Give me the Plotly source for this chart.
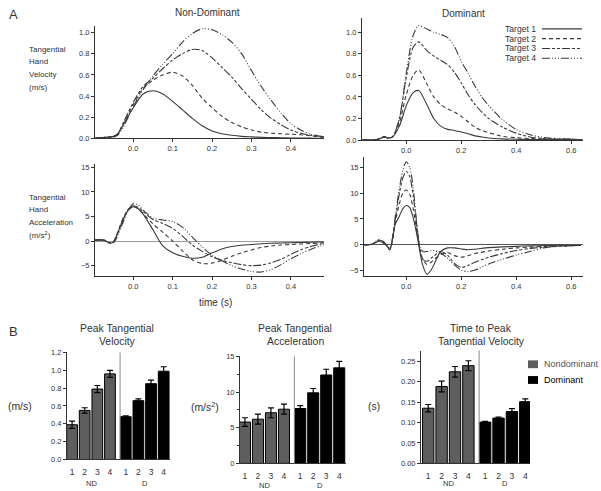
import plotly.graph_objects as go

# ---------------- DATA ----------------
targets = ["Target 1", "Target 2", "Target 3", "Target 4"]

# Panel A: Non-dominant tangential velocity (m/s)
t_nd_vel = [-0.1, -0.075, -0.05, -0.04, -0.025, 0.0, 0.025, 0.05, 0.075, 0.1, 0.125, 0.15, 0.175,
            0.2, 0.225, 0.25, 0.275, 0.3, 0.325, 0.35, 0.375, 0.4, 0.425, 0.45, 0.475, 0.49]
nd_vel_t1 = [0.0, 0.01, 0.02, 0.04, 0.13, 0.29, 0.42, 0.45, 0.42, 0.35, 0.27, 0.19, 0.12, 0.07, 0.045,
             0.03, 0.02, 0.015, 0.011, 0.009, 0.007, 0.005, 0.004, 0.003, 0.002, 0.002]
nd_vel_t2 = [0.0, 0.01, 0.02, 0.04, 0.14, 0.32, 0.47, 0.55, 0.60, 0.625, 0.59, 0.50, 0.38, 0.29, 0.21,
             0.15, 0.11, 0.08, 0.06, 0.05, 0.045, 0.04, 0.035, 0.025, 0.015, 0.01]
nd_vel_t3 = [0.0, 0.01, 0.02, 0.04, 0.15, 0.34, 0.49, 0.57, 0.66, 0.74, 0.80, 0.84, 0.83, 0.76, 0.67,
             0.58, 0.47, 0.37, 0.27, 0.19, 0.13, 0.08, 0.05, 0.03, 0.02, 0.015]
nd_vel_t4 = [0.0, 0.01, 0.015, 0.03, 0.11, 0.30, 0.46, 0.59, 0.70, 0.80, 0.91, 0.99, 1.035, 1.025, 0.98,
             0.91, 0.80, 0.64, 0.49, 0.36, 0.24, 0.14, 0.08, 0.04, 0.02, 0.012]

# Panel A: Dominant tangential velocity (m/s)
t_d_vel = [-0.16, -0.125, -0.1, -0.08, -0.065, -0.05, -0.025, 0.0, 0.025, 0.045, 0.075, 0.1, 0.125,
           0.15, 0.175, 0.2, 0.225, 0.25, 0.275, 0.3, 0.35, 0.4, 0.45, 0.5, 0.55, 0.6, 0.64]
d_vel_t1 = [0.0, 0.002, 0.01, 0.03, 0.02, 0.03, 0.13, 0.32, 0.44, 0.46, 0.33, 0.20, 0.13, 0.10, 0.09,
            0.075, 0.06, 0.04, 0.03, 0.02, 0.012, 0.008, 0.006, 0.005, 0.005, 0.004, 0.003]
d_vel_t2 = [0.0, 0.002, 0.01, 0.03, 0.02, 0.03, 0.16, 0.42, 0.60, 0.65, 0.52, 0.40, 0.33, 0.29, 0.26,
            0.22, 0.17, 0.12, 0.09, 0.07, 0.035, 0.022, 0.015, 0.01, 0.008, 0.006, 0.005]
d_vel_t3 = [0.0, 0.002, 0.01, 0.03, 0.02, 0.03, 0.20, 0.58, 0.86, 0.91, 0.83, 0.78, 0.74, 0.70, 0.63,
            0.53, 0.42, 0.33, 0.26, 0.20, 0.12, 0.065, 0.03, 0.015, 0.01, 0.008, 0.005]
d_vel_t4 = [0.0, 0.002, 0.01, 0.03, 0.02, 0.03, 0.20, 0.62, 0.97, 1.06, 1.03, 1.0, 0.98, 0.95, 0.87,
            0.73, 0.62, 0.50, 0.40, 0.32, 0.19, 0.10, 0.05, 0.025, 0.015, 0.01, 0.005]

# Panel A: Non-dominant tangential acceleration (m/s^2)
t_nd_acc = [-0.1, -0.075, -0.06, -0.05, -0.04, -0.025, -0.0125, 0.0, 0.0125, 0.025, 0.05, 0.075, 0.1,
            0.125, 0.15, 0.175, 0.2, 0.225, 0.25, 0.275, 0.3, 0.325, 0.35, 0.375, 0.4, 0.425, 0.45,
            0.475, 0.49]
nd_acc_t1 = [0.2, 0.2, -0.4, -0.2, 1.5, 4.5, 6.3, 7.0, 6.6, 5.5, 2.3, -1.0, -2.4, -3.1, -3.5, -3.3,
             -2.4, -1.6, -1.1, -0.85, -0.7, -0.55, -0.45, -0.4, -0.35, -0.3, -0.25, -0.2, -0.2]
nd_acc_t2 = [0.2, 0.2, -0.4, -0.1, 1.7, 4.8, 6.4, 7.0, 6.6, 5.6, 3.5, 1.8, 0.0, -2.0, -3.8, -4.6,
             -4.5, -3.9, -3.1, -2.4, -1.8, -1.3, -1.0, -0.8, -0.7, -0.6, -0.5, -0.4, -0.35]
nd_acc_t3 = [0.2, 0.2, -0.4, -0.2, 1.5, 4.6, 6.5, 7.2, 6.9, 6.0, 4.4, 3.6, 2.6, 1.0, -0.8, -2.1,
             -3.2, -3.9, -4.4, -4.8, -5.0, -4.9, -4.4, -3.7, -2.7, -1.8, -1.1, -0.6, -0.4]
nd_acc_t4 = [0.2, 0.2, -0.3, -0.3, 1.0, 4.0, 6.3, 7.6, 7.4, 6.3, 4.7, 4.3, 4.0, 2.8, 0.8, -1.2,
             -2.9, -4.0, -5.0, -5.7, -6.2, -6.3, -5.8, -4.8, -3.6, -2.6, -1.7, -1.0, -0.6]

# Panel A: Dominant tangential acceleration (m/s^2)
t_d_acc = [-0.155, -0.125, -0.1, -0.085, -0.07, -0.06, -0.05, -0.04, -0.025, -0.0125, 0.0, 0.0125,
           0.025, 0.04, 0.05, 0.06, 0.075, 0.09, 0.1, 0.125, 0.15, 0.175, 0.2, 0.225, 0.25, 0.3,
           0.35, 0.4, 0.45, 0.5, 0.55, 0.6, 0.635]
d_acc_t1 = [0, 0.1, 0.7, 0.4, -0.3, -1.0, 1.2, 4.0, 5.6, 7.0, 7.6, 7.2, 5.2, 1.5, -1.5, -4.0, -5.7,
            -4.9, -3.9, -1.3, -0.6, -0.6, -0.8, -0.95, -0.85, -0.55, -0.4, -0.3, -0.2, -0.15, -0.1,
            -0.1, -0.1]
d_acc_t2 = [0, 0.1, 0.8, 0.5, -0.2, -0.9, 1.0, 4.5, 8.0, 10.0, 10.6, 9.8, 7.0, 2.0, -1.0, -2.8, -3.8,
            -3.4, -2.9, -1.9, -1.5, -2.1, -2.4, -2.1, -1.7, -1.2, -0.85, -0.6, -0.45, -0.3, -0.2,
            -0.15, -0.1]
d_acc_t3 = [0, 0.1, 0.9, 0.6, -0.2, -0.8, 1.2, 5.0, 10.0, 13.0, 14.2, 13.2, 9.5, 3.0, -1.0, -2.8,
            -3.2, -2.6, -2.2, -1.3, -2.0, -3.6, -4.4, -4.0, -3.4, -2.4, -1.7, -1.1, -0.7, -0.45,
            -0.3, -0.2, -0.1]
d_acc_t4 = [0, 0.1, 1.0, 0.7, -0.1, -0.6, 1.5, 5.5, 11.0, 14.5, 16.1, 15.0, 11.0, 3.0, -0.5, -1.3,
            -1.3, -1.1, -1.1, -1.6, -2.6, -3.9, -4.9, -5.2, -4.9, -3.7, -2.8, -2.0, -1.3, -0.6,
            -0.25, -0.15, -0.1]

# Panel B: bar summaries
bar_pos_nd = [1, 2, 3, 4]
bar_pos_d = [5.25, 6.25, 7.25, 8.25]
bar_ticktext = ["1", "2", "3", "4", "1", "2", "3", "4"]
group_labels = ["ND", "D"]

pk_vel_nd = [0.39, 0.55, 0.79, 0.96]
pk_vel_nd_err = [0.04, 0.03, 0.04, 0.04]
pk_vel_d = [0.48, 0.66, 0.85, 0.99]
pk_vel_d_err = [0.01, 0.02, 0.04, 0.05]

pk_acc_nd = [5.8, 6.2, 7.1, 7.6]
pk_acc_nd_err = [0.6, 0.7, 0.7, 0.7]
pk_acc_d = [7.7, 9.9, 12.4, 13.4]
pk_acc_d_err = [0.4, 0.6, 0.8, 0.9]

ttp_nd = [0.135, 0.188, 0.224, 0.239]
ttp_nd_err = [0.009, 0.013, 0.013, 0.012]
ttp_d = [0.101, 0.111, 0.127, 0.151]
ttp_d_err = [0.002, 0.002, 0.007, 0.007]

# ---------------- STYLE ----------------
W, H = 601, 491
FONT = "Liberation Sans"
TXT = "#333333"
LINE_C = "#3a3a3a"
ND_C = "#5e5e5e"
D_C = "#000000"
dashes = ["solid", "4px,3px", "8px,2px,3px,2px,3px,2px", "8px,2px,1px,2px,1px,2px,1px,2px"]


def xd(a, b):
    return [a / W, b / W]


def yd(top, bottom):
    return [1 - bottom / H, 1 - top / H]


def px_x(x):
    return x / W


def px_y(y):
    return 1 - y / H


fig = go.Figure()

curve_sets = [
    ("x", "y", t_nd_vel, [nd_vel_t1, nd_vel_t2, nd_vel_t3, nd_vel_t4]),
    ("x2", "y2", t_d_vel, [d_vel_t1, d_vel_t2, d_vel_t3, d_vel_t4]),
    ("x3", "y3", t_nd_acc, [nd_acc_t1, nd_acc_t2, nd_acc_t3, nd_acc_t4]),
    ("x4", "y4", t_d_acc, [d_acc_t1, d_acc_t2, d_acc_t3, d_acc_t4]),
]
for xa, ya, tt, series in curve_sets:
    for name, vals, dsh in zip(targets, series, dashes):
        fig.add_trace(go.Scatter(
            x=tt, y=vals, xaxis=xa, yaxis=ya, mode="lines", name=name, showlegend=False,
            line=dict(color=LINE_C, width=1.1, dash=dsh, shape="spline", smoothing=0.8),
            hoverinfo="skip"))

bar_sets = [
    ("x5", "y5", pk_vel_nd, pk_vel_nd_err, pk_vel_d, pk_vel_d_err),
    ("x6", "y6", pk_acc_nd, pk_acc_nd_err, pk_acc_d, pk_acc_d_err),
    ("x7", "y7", ttp_nd, ttp_nd_err, ttp_d, ttp_d_err),
]
for xa, ya, nd, nde, d, de in bar_sets:
    for pos, vals, errs, col, nm in [(bar_pos_nd, nd, nde, ND_C, "Nondominant"),
                                     (bar_pos_d, d, de, D_C, "Dominant")]:
        fig.add_trace(go.Bar(
            x=pos, y=vals, xaxis=xa, yaxis=ya, width=0.85, name=nm, showlegend=False,
            marker=dict(color=col, line=dict(color="#000000", width=1)),
            error_y=dict(type="data", array=errs, color="#000000", thickness=1.2, width=3),
            hoverinfo="skip"))

axis_common = dict(showline=True, linecolor="#333333", linewidth=1, ticks="outside", ticklen=3,
                   tickcolor="#333333", tickwidth=1, showgrid=False, zeroline=False,
                   tickfont=dict(family=FONT, size=7.5, color=TXT))

layout = dict(
    width=W, height=H, margin=dict(l=0, r=0, t=0, b=0),
    paper_bgcolor="white", plot_bgcolor="white", showlegend=False,
    font=dict(family=FONT, color=TXT),
    bargap=0, hovermode=False,
)

# Velocity panels
layout["xaxis"] = dict(axis_common, domain=xd(95, 324), anchor="y", range=[-0.097, 0.484],
                       tickvals=[0, 0.1, 0.2, 0.3, 0.4], tickformat=".1f")
layout["yaxis"] = dict(axis_common, domain=yd(22, 137), anchor="x", range=[0, 1.065],
                       dtick=0.2, tickformat=".1f")
layout["xaxis2"] = dict(axis_common, domain=xd(362, 583), anchor="y2", range=[-0.161, 0.643],
                        tickvals=[0, 0.2, 0.4, 0.6], tickformat=".1f")
layout["yaxis2"] = dict(axis_common, domain=yd(14, 138.7), anchor="x2", range=[0, 1.134],
                        tickvals=[0, 0.2, 0.4, 0.6, 0.8, 1.0], tickformat=".1f")
# Acceleration panels
layout["xaxis3"] = dict(axis_common, domain=xd(95, 324), anchor="y3", range=[-0.097, 0.484],
                        tickvals=[0, 0.1, 0.2, 0.3, 0.4], tickformat=".1f")
layout["yaxis3"] = dict(axis_common, domain=yd(163, 277), anchor="x3", range=[-7.1, 15.7],
                        tickvals=[-5, 0, 5, 10, 15], zeroline=True, zerolinecolor="#9a9a9a",
                        zerolinewidth=1)
layout["xaxis4"] = dict(axis_common, domain=xd(364, 583), anchor="y4", range=[-0.154, 0.643],
                        tickvals=[0, 0.2, 0.4, 0.6], tickformat=".1f")
layout["yaxis4"] = dict(axis_common, domain=yd(156, 277), anchor="x4", range=[-6.03, 16.98],
                        tickvals=[-5, 0, 5, 10, 15], zeroline=True, zerolinecolor="#555555",
                        zerolinewidth=1.2)
# Bar panels
bar_x_common = dict(axis_common, ticks="", ticklen=0, ticklabelstandoff=4,
                    tickvals=bar_pos_nd + bar_pos_d, ticktext=bar_ticktext,
                    tickfont=dict(family=FONT, size=8.5, color=TXT))
layout["xaxis5"] = dict(bar_x_common, domain=xd(67, 170), anchor="y5", range=[0.6, 8.75])
layout["yaxis5"] = dict(axis_common, domain=yd(355, 464), anchor="x5", range=[0, 1.2],
                        dtick=0.2, tickformat=".1f")
layout["xaxis6"] = dict(bar_x_common, domain=xd(240, 346), anchor="y6", range=[0.62, 8.77])
layout["yaxis6"] = dict(axis_common, domain=yd(359, 468), anchor="x6", range=[0, 15],
                        dtick=5, minor=dict(dtick=2.5, ticklen=2, ticks="outside",
                                            tickcolor="#333333"))
layout["xaxis7"] = dict(bar_x_common, domain=xd(421, 530), anchor="y7", range=[0.46, 8.6])
layout["yaxis7"] = dict(axis_common, domain=yd(353, 468), anchor="x7", range=[0, 0.276],
                        dtick=0.05, tickformat=".2f")

fig.update_layout(**layout)

shapes = []
# group dividers in bar panels
for xa, ya in [("x5", "y5"), ("x6", "y6"), ("x7", "y7")]:
    shapes.append(dict(type="line", xref=xa, yref=ya + " domain", x0=4.8, x1=4.8, y0=0, y1=1,
                       line=dict(color="#8a8a8a", width=1)))

annotations = []


def txt(x, y, s, size, xanchor="center", color=TXT, yanchor="middle", **kw):
    annotations.append(dict(x=px_x(x), y=px_y(y), xref="paper", yref="paper", text=s,
                            showarrow=False, xanchor=xanchor, yanchor=yanchor,
                            font=dict(family=FONT, size=size, color=color), **kw))


# Panel letters and titles
txt(13, 11, "A", 13)
txt(13, 334, "B", 13)
txt(207, 9, "Non-Dominant", 10)
txt(463, 10, "Dominant", 10)
for i, s in enumerate(["Tangential", "Hand", "Velocity", "(m/s)"]):
    txt(27, 46 + i * 13, s, 8, xanchor="left")
for i, s in enumerate(["Tangential", "Hand", "Acceleration", "(m/s<sup>2</sup>)"]):
    txt(27, 197 + i * 12.7, s, 8, xanchor="left")
txt(215, 304, "time (s)", 10)

# Line legend (text then sample)
for i, (name, dsh) in enumerate(zip(targets, dashes)):
    yy = 25.3 + i * 10
    txt(503, yy, name, 8.6, xanchor="left")
    shapes.append(dict(type="line", xref="paper", yref="paper", x0=px_x(542), x1=px_x(582),
                       y0=px_y(yy), y1=px_y(yy), line=dict(color=LINE_C, width=1.1, dash=dsh)))

# Bar panel titles and axis titles
txt(117, 331, "Peak Tangential", 10.4)
txt(117, 344, "Velocity", 10.4)
txt(295, 331, "Peak Tangential", 10.4)
txt(295, 344, "Acceleration", 10.4)
txt(481, 331, "Time to Peak", 10.4)
txt(481, 344, "Tangential Velocity", 10.4)
txt(20, 410, "(m/s)", 10.4)
txt(205, 410, "(m/s<sup>2</sup>)", 10.4)
txt(374, 410, "(s)", 10.4)

# Group labels under bars
for xa, ybot in [("x5", 488.5), ("x6", 490), ("x7", 488)]:
    for lab, xv in zip(group_labels, [2.5, 6.75]):
        annotations.append(dict(x=xv, y=px_y(ybot), xref=xa, yref="paper", text=lab,
                                showarrow=False, yanchor="middle",
                                font=dict(family=FONT, size=7.5, color=TXT)))

# Bar legend
for i, (nm, col, tcol) in enumerate([("Nondominant", ND_C, "#555555"), ("Dominant", D_C, "#000000")]):
    yy = 367 + i * 16
    shapes.append(dict(type="rect", xref="paper", yref="paper", x0=px_x(528), x1=px_x(538),
                       y0=px_y(yy + 4), y1=px_y(yy - 4), fillcolor=col, line=dict(width=0)))
    txt(542, yy, nm, 9.1, xanchor="left", color=tcol)

fig.update_layout(shapes=shapes, annotations=annotations)
fig.write_html("out.html", config={"displayModeBar": False, "staticPlot": True},
               post_script="document.body.style.margin='0';document.body.style.overflow='hidden';")
